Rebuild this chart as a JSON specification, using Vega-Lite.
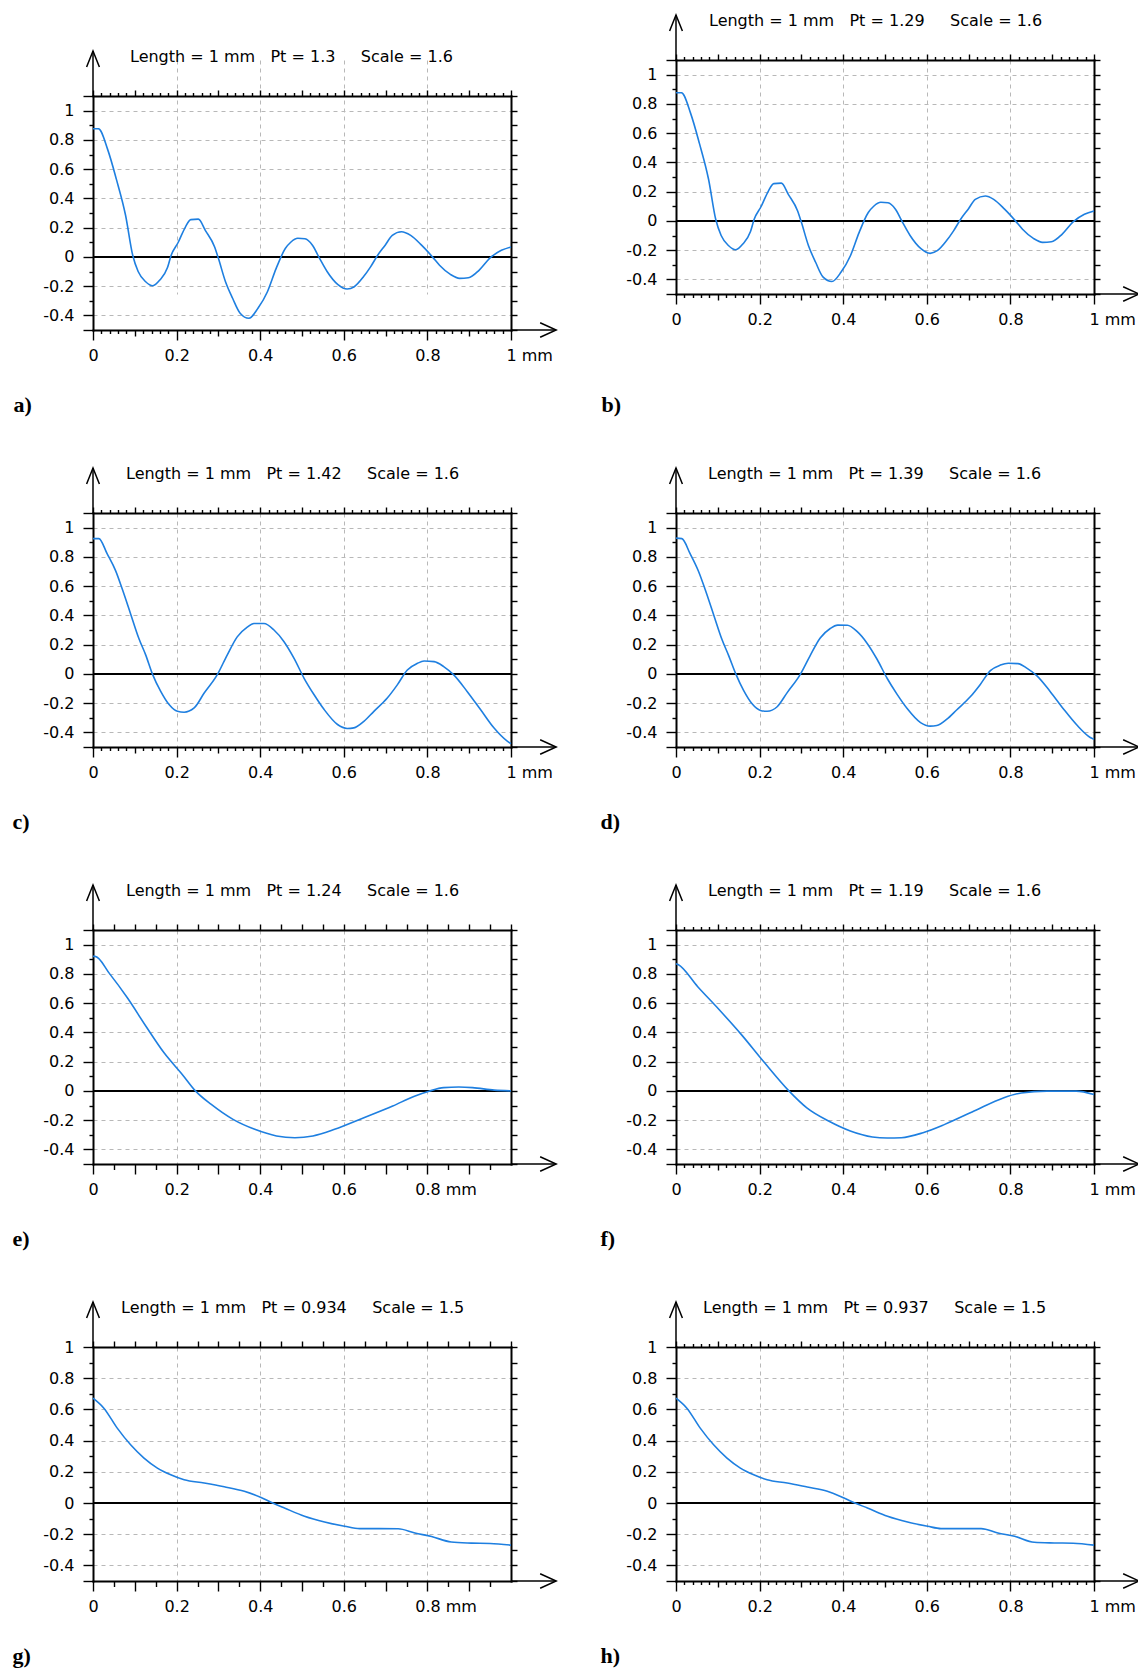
{
  "$schema": "https://vega.github.io/schema/vega-lite/v6.json",
  "background": "white",
  "padding": {"left": 12, "top": 11, "right": 10, "bottom": 10},
  "config": {
    "view": {"stroke": null},
    "axis": {"domainColor": "black", "domainWidth": 2, "domainCap": "square", "tickColor": "black", "tickWidth": 1.4, "labelFont": "DejaVu Sans", "labelFontSize": 16, "labelColor": "black", "labelFlush": false, "labelOverlap": false, "labelBound": false, "gridColor": "#b8b8b8", "gridDash": [4, 4], "gridWidth": 1, "titleColor": "black"},
    "title": {"font": "DejaVu Sans", "fontSize": 16, "fontWeight": "normal", "color": "black", "anchor": "start", "frame": "group", "offset": -17.5, "baseline": "alphabetic"}
  },
  "columns": 2,
  "spacing": {"row": 183, "column": 165},
  "bounds": "flush",
  "align": "each",
  "concat": [
    {
      "width": 418, "height": 270,
      "title": {"text": "Length = 1 mm\u00a0\u00a0\u00a0Pt = 1.3\u00a0\u00a0\u00a0\u00a0\u00a0Scale = 1.6", "dx": 37},
      "layer": [
        {"data": {"values": [{}]}, "mark": {"type": "rule", "color": "black", "strokeWidth": 2}, "encoding": {"y": {"datum": 0, "type": "quantitative", "scale": {"domain": [-0.5, 1.1], "nice": false, "zero": false, "range": [270, 36]}, "axis": null}}},
        {"data": {"values": [{"x":0,"y":0.876},{"x":0.013,"y":0.876},{"x":0.035,"y":0.735},{"x":0.056,"y":0.53},{"x":0.078,"y":0.283},{"x":0.095,"y":0.011},{"x":0.108,"y":-0.1},{"x":0.126,"y":-0.17},{"x":0.143,"y":-0.197},{"x":0.16,"y":-0.158},{"x":0.178,"y":-0.075},{"x":0.187,"y":0.011},{"x":0.204,"y":0.1},{"x":0.221,"y":0.204},{"x":0.234,"y":0.255},{"x":0.252,"y":0.258},{"x":0.269,"y":0.18},{"x":0.291,"y":0.068},{"x":0.3,"y":-0.01},{"x":0.317,"y":-0.17},{"x":0.334,"y":-0.283},{"x":0.352,"y":-0.385},{"x":0.373,"y":-0.42},{"x":0.395,"y":-0.35},{"x":0.417,"y":-0.24},{"x":0.438,"y":-0.08},{"x":0.46,"y":0.057},{"x":0.473,"y":0.1},{"x":0.49,"y":0.127},{"x":0.507,"y":0.124},{"x":0.525,"y":0.08},{"x":0.542,"y":-0.01},{"x":0.56,"y":-0.1},{"x":0.586,"y":-0.19},{"x":0.608,"y":-0.22},{"x":0.625,"y":-0.204},{"x":0.647,"y":-0.136},{"x":0.664,"y":-0.068},{"x":0.681,"y":0.011},{"x":0.699,"y":0.08},{"x":0.716,"y":0.147},{"x":0.738,"y":0.172},{"x":0.76,"y":0.147},{"x":0.786,"y":0.08},{"x":0.812,"y":0},{"x":0.829,"y":-0.057},{"x":0.855,"y":-0.12},{"x":0.877,"y":-0.147},{"x":0.898,"y":-0.143},{"x":0.924,"y":-0.09},{"x":0.95,"y":-0.007},{"x":0.977,"y":0.045},{"x":1,"y":0.068}]},
         "mark": {"type": "line", "color": "#1e7fe0", "strokeWidth": 1.6, "interpolate": "monotone"},
         "encoding": {
          "x": {"field": "x", "type": "quantitative", "scale": {"domain": [0, 1], "nice": false, "zero": false},
                "axis": {"orient": "bottom", "values": [0,0.02,0.04,0.06,0.08,0.1,0.12,0.14,0.16,0.18,0.2,0.22,0.24,0.26,0.28,0.3,0.32,0.34,0.36,0.38,0.4,0.42,0.44,0.46,0.48,0.5,0.52,0.54,0.56,0.58,0.6,0.62,0.64,0.66,0.68,0.7,0.72,0.74,0.76,0.78,0.8,0.82,0.84,0.86,0.88,0.9,0.92,0.94,0.96,0.98,1],
                 "tickSize": {"expr": "abs(datum.value*5-round(datum.value*5))<0.001 ? 10 : (abs(datum.value*10-round(datum.value*10))<0.001 ? 6 : 3.5)"},
                 "labelExpr": "abs(datum.value*5-round(datum.value*5))<0.001 ? (datum.value > 0.99 ? '1 mm' : format(datum.value, '~g')) : ''",
                 "labelAlign": {"condition": {"test": "datum.value > 0.99", "value": "left"}, "value": "center"},
                 "labelOffset": {"condition": {"test": "datum.value > 0.99", "value": -5}, "value": 0},
                 "labelPadding": 7, "grid": true,
                 "gridOpacity": {"condition": {"test": "abs(datum.value*5-round(datum.value*5))<0.001 && datum.value > 0.01 && datum.value < 0.99", "value": 1}, "value": 0},
                 "title": "a)", "titleX": -80, "titleY": 81, "titleAlign": "left", "titleBaseline": "alphabetic", "titleFont": "Liberation Serif", "titleFontSize": 22, "titleFontWeight": "bold", "titleAngle": 0}},
          "y": {"field": "y", "type": "quantitative", "scale": {"domain": [-0.5, 1.1], "nice": false, "zero": false, "range": [270, 36]},
                "axis": {"orient": "left", "values": [-0.5,-0.4,-0.3,-0.2,-0.1,0,0.1,0.2,0.3,0.4,0.5,0.6,0.7,0.8,0.9,1,1.1],
                 "tickSize": {"expr": "abs(datum.value*5-round(datum.value*5))<0.001 || datum.value < -0.45 || datum.value > 1.05 ? 10 : 4"},
                 "labelExpr": "abs(datum.value*5-round(datum.value*5))<0.001 && datum.value > -0.45 && datum.value < 1.05 ? (datum.value < -0.01 ? '-' : '') + format(abs(datum.value), '~g') : ''",
                 "labelPadding": 9, "grid": true,
                 "gridOpacity": {"condition": {"test": "abs(datum.value*5-round(datum.value*5))<0.001 && abs(datum.value) > 0.01 && datum.value > -0.45 && datum.value < 1.05", "value": 1}, "value": 0},
                 "title": null}}
         }},
        {"data": {"values": [{}]}, "mark": {"type": "rule", "color": "black", "strokeWidth": 1.5},
         "encoding": {
          "x": {"datum": 0, "type": "quantitative", "scale": {"domain": [0, 1], "nice": false, "zero": false},
                "axis": {"orient": "top", "offset": -36, "values": [0,0.02,0.04,0.06,0.08,0.1,0.12,0.14,0.16,0.18,0.2,0.22,0.24,0.26,0.28,0.3,0.32,0.34,0.36,0.38,0.4,0.42,0.44,0.46,0.48,0.5,0.52,0.54,0.56,0.58,0.6,0.62,0.64,0.66,0.68,0.7,0.72,0.74,0.76,0.78,0.8,0.82,0.84,0.86,0.88,0.9,0.92,0.94,0.96,0.98,1],
                 "tickSize": {"expr": "abs(datum.value*10-round(datum.value*10))<0.001 ? 6 : 3.5"}, "labels": false, "grid": false, "title": null}},
          "y": {"datum": 1.1, "type": "quantitative", "scale": {"domain": [-0.5, 1.1], "nice": false, "zero": false, "range": [270, 36]},
                "axis": {"orient": "right", "values": [-0.5,-0.4,-0.3,-0.2,-0.1,0,0.1,0.2,0.3,0.4,0.5,0.6,0.7,0.8,0.9,1,1.1], "tickSize": 6, "labels": false, "grid": false, "title": null}},
          "y2": {"datum": 1.408}
         }},
        {"data": {"values": [{}]}, "mark": {"type": "rule", "color": "black", "strokeWidth": 1.5},
         "encoding": {"x": {"datum": 1, "type": "quantitative", "scale": {"domain": [0, 1], "nice": false, "zero": false}, "axis": null}, "x2": {"datum": 1.108}, "y": {"datum": -0.5, "type": "quantitative", "scale": {"domain": [-0.5, 1.1], "nice": false, "zero": false, "range": [270, 36]}, "axis": null}}},
        {"data": {"values": [{}]}, "mark": {"type": "point", "shape": "M-0.8,2L0,0L0.8,2", "size": 256, "filled": false, "color": "black", "strokeWidth": 1.5, "opacity": 1},
         "encoding": {"x": {"datum": 0, "type": "quantitative", "scale": {"domain": [0, 1], "nice": false, "zero": false}, "axis": null}, "y": {"datum": 1.408, "type": "quantitative", "scale": {"domain": [-0.5, 1.1], "nice": false, "zero": false, "range": [270, 36]}, "axis": null}}},
        {"data": {"values": [{}]}, "mark": {"type": "point", "shape": "M-2,-0.9L0,0L-2,0.9", "size": 256, "filled": false, "color": "black", "strokeWidth": 1.5, "opacity": 1},
         "encoding": {"x": {"datum": 1.108, "type": "quantitative", "scale": {"domain": [0, 1], "nice": false, "zero": false}, "axis": null}, "y": {"datum": -0.5, "type": "quantitative", "scale": {"domain": [-0.5, 1.1], "nice": false, "zero": false, "range": [270, 36]}, "axis": null}}}
      ],
      "resolve": {"axis": {"x": "independent", "y": "independent"}}
    },
    {
      "width": 418, "height": 234,
      "title": {"text": "Length = 1 mm\u00a0\u00a0\u00a0Pt = 1.29\u00a0\u00a0\u00a0\u00a0\u00a0Scale = 1.6", "dx": 33},
      "layer": [
        {"data": {"values": [{}]}, "mark": {"type": "rule", "color": "black", "strokeWidth": 2}, "encoding": {"y": {"datum": 0, "type": "quantitative", "scale": {"domain": [-0.5, 1.1], "nice": false, "zero": false}, "axis": null}}},
        {"data": {"values": [{"x":0,"y":0.876},{"x":0.013,"y":0.876},{"x":0.035,"y":0.735},{"x":0.056,"y":0.53},{"x":0.078,"y":0.283},{"x":0.095,"y":0.011},{"x":0.108,"y":-0.1},{"x":0.126,"y":-0.17},{"x":0.143,"y":-0.197},{"x":0.16,"y":-0.158},{"x":0.178,"y":-0.075},{"x":0.187,"y":0.011},{"x":0.204,"y":0.1},{"x":0.221,"y":0.204},{"x":0.234,"y":0.255},{"x":0.252,"y":0.258},{"x":0.269,"y":0.18},{"x":0.291,"y":0.068},{"x":0.3,"y":-0.01},{"x":0.317,"y":-0.17},{"x":0.334,"y":-0.283},{"x":0.352,"y":-0.385},{"x":0.373,"y":-0.415},{"x":0.395,"y":-0.35},{"x":0.417,"y":-0.24},{"x":0.438,"y":-0.08},{"x":0.46,"y":0.057},{"x":0.473,"y":0.1},{"x":0.49,"y":0.127},{"x":0.507,"y":0.124},{"x":0.525,"y":0.08},{"x":0.542,"y":-0.01},{"x":0.56,"y":-0.1},{"x":0.586,"y":-0.19},{"x":0.608,"y":-0.222},{"x":0.625,"y":-0.204},{"x":0.647,"y":-0.136},{"x":0.664,"y":-0.068},{"x":0.681,"y":0.011},{"x":0.699,"y":0.08},{"x":0.716,"y":0.147},{"x":0.74,"y":0.17},{"x":0.76,"y":0.147},{"x":0.786,"y":0.08},{"x":0.812,"y":0},{"x":0.829,"y":-0.057},{"x":0.855,"y":-0.12},{"x":0.877,"y":-0.147},{"x":0.898,"y":-0.143},{"x":0.924,"y":-0.09},{"x":0.95,"y":-0.007},{"x":0.977,"y":0.045},{"x":1,"y":0.068}]},
         "mark": {"type": "line", "color": "#1e7fe0", "strokeWidth": 1.6, "interpolate": "monotone"},
         "encoding": {
          "x": {"field": "x", "type": "quantitative", "scale": {"domain": [0, 1], "nice": false, "zero": false},
                "axis": {"orient": "bottom", "values": [0,0.02,0.04,0.06,0.08,0.1,0.12,0.14,0.16,0.18,0.2,0.22,0.24,0.26,0.28,0.3,0.32,0.34,0.36,0.38,0.4,0.42,0.44,0.46,0.48,0.5,0.52,0.54,0.56,0.58,0.6,0.62,0.64,0.66,0.68,0.7,0.72,0.74,0.76,0.78,0.8,0.82,0.84,0.86,0.88,0.9,0.92,0.94,0.96,0.98,1],
                 "tickSize": {"expr": "abs(datum.value*5-round(datum.value*5))<0.001 ? 10 : (abs(datum.value*10-round(datum.value*10))<0.001 ? 6 : 3.5)"},
                 "labelExpr": "abs(datum.value*5-round(datum.value*5))<0.001 ? (datum.value > 0.99 ? '1 mm' : format(datum.value, '~g')) : ''",
                 "labelAlign": {"condition": {"test": "datum.value > 0.99", "value": "left"}, "value": "center"},
                 "labelOffset": {"condition": {"test": "datum.value > 0.99", "value": -5}, "value": 0},
                 "labelPadding": 7, "grid": true,
                 "gridOpacity": {"condition": {"test": "abs(datum.value*5-round(datum.value*5))<0.001 && datum.value > 0.01 && datum.value < 0.99", "value": 1}, "value": 0},
                 "title": "b)", "titleX": -75, "titleY": 117, "titleAlign": "left", "titleBaseline": "alphabetic", "titleFont": "Liberation Serif", "titleFontSize": 22, "titleFontWeight": "bold", "titleAngle": 0}},
          "y": {"field": "y", "type": "quantitative", "scale": {"domain": [-0.5, 1.1], "nice": false, "zero": false},
                "axis": {"orient": "left", "values": [-0.5,-0.4,-0.3,-0.2,-0.1,0,0.1,0.2,0.3,0.4,0.5,0.6,0.7,0.8,0.9,1,1.1],
                 "tickSize": {"expr": "abs(datum.value*5-round(datum.value*5))<0.001 || datum.value < -0.45 || datum.value > 1.05 ? 10 : 4"},
                 "labelExpr": "abs(datum.value*5-round(datum.value*5))<0.001 && datum.value > -0.45 && datum.value < 1.05 ? (datum.value < -0.01 ? '-' : '') + format(abs(datum.value), '~g') : ''",
                 "labelPadding": 9, "grid": true,
                 "gridOpacity": {"condition": {"test": "abs(datum.value*5-round(datum.value*5))<0.001 && abs(datum.value) > 0.01 && datum.value > -0.45 && datum.value < 1.05", "value": 1}, "value": 0},
                 "title": null}}
         }},
        {"data": {"values": [{}]}, "mark": {"type": "rule", "color": "black", "strokeWidth": 1.5},
         "encoding": {
          "x": {"datum": 0, "type": "quantitative", "scale": {"domain": [0, 1], "nice": false, "zero": false},
                "axis": {"orient": "top", "values": [0,0.02,0.04,0.06,0.08,0.1,0.12,0.14,0.16,0.18,0.2,0.22,0.24,0.26,0.28,0.3,0.32,0.34,0.36,0.38,0.4,0.42,0.44,0.46,0.48,0.5,0.52,0.54,0.56,0.58,0.6,0.62,0.64,0.66,0.68,0.7,0.72,0.74,0.76,0.78,0.8,0.82,0.84,0.86,0.88,0.9,0.92,0.94,0.96,0.98,1],
                 "tickSize": {"expr": "abs(datum.value*10-round(datum.value*10))<0.001 ? 6 : 3.5"}, "labels": false, "grid": false, "title": null}},
          "y": {"datum": 1.1, "type": "quantitative", "scale": {"domain": [-0.5, 1.1], "nice": false, "zero": false},
                "axis": {"orient": "right", "values": [-0.5,-0.4,-0.3,-0.2,-0.1,0,0.1,0.2,0.3,0.4,0.5,0.6,0.7,0.8,0.9,1,1.1], "tickSize": 6, "labels": false, "grid": false, "title": null}},
          "y2": {"datum": 1.408}
         }},
        {"data": {"values": [{}]}, "mark": {"type": "rule", "color": "black", "strokeWidth": 1.5},
         "encoding": {"x": {"datum": 1, "type": "quantitative", "scale": {"domain": [0, 1], "nice": false, "zero": false}, "axis": null}, "x2": {"datum": 1.108}, "y": {"datum": -0.5, "type": "quantitative", "scale": {"domain": [-0.5, 1.1], "nice": false, "zero": false}, "axis": null}}},
        {"data": {"values": [{}]}, "mark": {"type": "point", "shape": "M-0.8,2L0,0L0.8,2", "size": 256, "filled": false, "color": "black", "strokeWidth": 1.5, "opacity": 1},
         "encoding": {"x": {"datum": 0, "type": "quantitative", "scale": {"domain": [0, 1], "nice": false, "zero": false}, "axis": null}, "y": {"datum": 1.408, "type": "quantitative", "scale": {"domain": [-0.5, 1.1], "nice": false, "zero": false}, "axis": null}}},
        {"data": {"values": [{}]}, "mark": {"type": "point", "shape": "M-2,-0.9L0,0L-2,0.9", "size": 256, "filled": false, "color": "black", "strokeWidth": 1.5, "opacity": 1},
         "encoding": {"x": {"datum": 1.108, "type": "quantitative", "scale": {"domain": [0, 1], "nice": false, "zero": false}, "axis": null}, "y": {"datum": -0.5, "type": "quantitative", "scale": {"domain": [-0.5, 1.1], "nice": false, "zero": false}, "axis": null}}}
      ],
      "resolve": {"axis": {"x": "independent", "y": "independent"}}
    },
    {
      "width": 418, "height": 234,
      "title": {"text": "Length = 1 mm\u00a0\u00a0\u00a0Pt = 1.42\u00a0\u00a0\u00a0\u00a0\u00a0Scale = 1.6", "dx": 33},
      "layer": [
        {"data": {"values": [{}]}, "mark": {"type": "rule", "color": "black", "strokeWidth": 2}, "encoding": {"y": {"datum": 0, "type": "quantitative", "scale": {"domain": [-0.5, 1.1], "nice": false, "zero": false}, "axis": null}}},
        {"data": {"values": [{"x":0,"y":0.925},{"x":0.014,"y":0.925},{"x":0.034,"y":0.82},{"x":0.054,"y":0.706},{"x":0.07,"y":0.58},{"x":0.09,"y":0.41},{"x":0.11,"y":0.24},{"x":0.126,"y":0.13},{"x":0.142,"y":0},{"x":0.162,"y":-0.12},{"x":0.182,"y":-0.21},{"x":0.202,"y":-0.256},{"x":0.218,"y":-0.262},{"x":0.242,"y":-0.233},{"x":0.266,"y":-0.131},{"x":0.297,"y":-0.007},{"x":0.321,"y":0.129},{"x":0.345,"y":0.253},{"x":0.369,"y":0.32},{"x":0.385,"y":0.344},{"x":0.409,"y":0.344},{"x":0.433,"y":0.3},{"x":0.457,"y":0.22},{"x":0.481,"y":0.106},{"x":0.505,"y":-0.03},{"x":0.529,"y":-0.143},{"x":0.553,"y":-0.244},{"x":0.585,"y":-0.346},{"x":0.608,"y":-0.373},{"x":0.624,"y":-0.369},{"x":0.648,"y":-0.324},{"x":0.672,"y":-0.256},{"x":0.704,"y":-0.165},{"x":0.728,"y":-0.075},{"x":0.752,"y":0.027},{"x":0.776,"y":0.072},{"x":0.792,"y":0.088},{"x":0.816,"y":0.084},{"x":0.839,"y":0.05},{"x":0.863,"y":-0.007},{"x":0.895,"y":-0.12},{"x":0.927,"y":-0.244},{"x":0.959,"y":-0.369},{"x":0.991,"y":-0.46},{"x":1,"y":-0.477}]},
         "mark": {"type": "line", "color": "#1e7fe0", "strokeWidth": 1.6, "interpolate": "monotone"},
         "encoding": {
          "x": {"field": "x", "type": "quantitative", "scale": {"domain": [0, 1], "nice": false, "zero": false},
                "axis": {"orient": "bottom", "values": [0,0.02,0.04,0.06,0.08,0.1,0.12,0.14,0.16,0.18,0.2,0.22,0.24,0.26,0.28,0.3,0.32,0.34,0.36,0.38,0.4,0.42,0.44,0.46,0.48,0.5,0.52,0.54,0.56,0.58,0.6,0.62,0.64,0.66,0.68,0.7,0.72,0.74,0.76,0.78,0.8,0.82,0.84,0.86,0.88,0.9,0.92,0.94,0.96,0.98,1],
                 "tickSize": {"expr": "abs(datum.value*5-round(datum.value*5))<0.001 ? 10 : (abs(datum.value*10-round(datum.value*10))<0.001 ? 6 : 3.5)"},
                 "labelExpr": "abs(datum.value*5-round(datum.value*5))<0.001 ? (datum.value > 0.99 ? '1 mm' : format(datum.value, '~g')) : ''",
                 "labelAlign": {"condition": {"test": "datum.value > 0.99", "value": "left"}, "value": "center"},
                 "labelOffset": {"condition": {"test": "datum.value > 0.99", "value": -5}, "value": 0},
                 "labelPadding": 7, "grid": true,
                 "gridOpacity": {"condition": {"test": "abs(datum.value*5-round(datum.value*5))<0.001 && datum.value > 0.01 && datum.value < 0.99", "value": 1}, "value": 0},
                 "title": "c)", "titleX": -81, "titleY": 81, "titleAlign": "left", "titleBaseline": "alphabetic", "titleFont": "Liberation Serif", "titleFontSize": 22, "titleFontWeight": "bold", "titleAngle": 0}},
          "y": {"field": "y", "type": "quantitative", "scale": {"domain": [-0.5, 1.1], "nice": false, "zero": false},
                "axis": {"orient": "left", "values": [-0.5,-0.4,-0.3,-0.2,-0.1,0,0.1,0.2,0.3,0.4,0.5,0.6,0.7,0.8,0.9,1,1.1],
                 "tickSize": {"expr": "abs(datum.value*5-round(datum.value*5))<0.001 || datum.value < -0.45 || datum.value > 1.05 ? 10 : 4"},
                 "labelExpr": "abs(datum.value*5-round(datum.value*5))<0.001 && datum.value > -0.45 && datum.value < 1.05 ? (datum.value < -0.01 ? '-' : '') + format(abs(datum.value), '~g') : ''",
                 "labelPadding": 9, "grid": true,
                 "gridOpacity": {"condition": {"test": "abs(datum.value*5-round(datum.value*5))<0.001 && abs(datum.value) > 0.01 && datum.value > -0.45 && datum.value < 1.05", "value": 1}, "value": 0},
                 "title": null}}
         }},
        {"data": {"values": [{}]}, "mark": {"type": "rule", "color": "black", "strokeWidth": 1.5},
         "encoding": {
          "x": {"datum": 0, "type": "quantitative", "scale": {"domain": [0, 1], "nice": false, "zero": false},
                "axis": {"orient": "top", "values": [0,0.02,0.04,0.06,0.08,0.1,0.12,0.14,0.16,0.18,0.2,0.22,0.24,0.26,0.28,0.3,0.32,0.34,0.36,0.38,0.4,0.42,0.44,0.46,0.48,0.5,0.52,0.54,0.56,0.58,0.6,0.62,0.64,0.66,0.68,0.7,0.72,0.74,0.76,0.78,0.8,0.82,0.84,0.86,0.88,0.9,0.92,0.94,0.96,0.98,1],
                 "tickSize": {"expr": "abs(datum.value*10-round(datum.value*10))<0.001 ? 6 : 3.5"}, "labels": false, "grid": false, "title": null}},
          "y": {"datum": 1.1, "type": "quantitative", "scale": {"domain": [-0.5, 1.1], "nice": false, "zero": false},
                "axis": {"orient": "right", "values": [-0.5,-0.4,-0.3,-0.2,-0.1,0,0.1,0.2,0.3,0.4,0.5,0.6,0.7,0.8,0.9,1,1.1], "tickSize": 6, "labels": false, "grid": false, "title": null}},
          "y2": {"datum": 1.408}
         }},
        {"data": {"values": [{}]}, "mark": {"type": "rule", "color": "black", "strokeWidth": 1.5},
         "encoding": {"x": {"datum": 1, "type": "quantitative", "scale": {"domain": [0, 1], "nice": false, "zero": false}, "axis": null}, "x2": {"datum": 1.108}, "y": {"datum": -0.5, "type": "quantitative", "scale": {"domain": [-0.5, 1.1], "nice": false, "zero": false}, "axis": null}}},
        {"data": {"values": [{}]}, "mark": {"type": "point", "shape": "M-0.8,2L0,0L0.8,2", "size": 256, "filled": false, "color": "black", "strokeWidth": 1.5, "opacity": 1},
         "encoding": {"x": {"datum": 0, "type": "quantitative", "scale": {"domain": [0, 1], "nice": false, "zero": false}, "axis": null}, "y": {"datum": 1.408, "type": "quantitative", "scale": {"domain": [-0.5, 1.1], "nice": false, "zero": false}, "axis": null}}},
        {"data": {"values": [{}]}, "mark": {"type": "point", "shape": "M-2,-0.9L0,0L-2,0.9", "size": 256, "filled": false, "color": "black", "strokeWidth": 1.5, "opacity": 1},
         "encoding": {"x": {"datum": 1.108, "type": "quantitative", "scale": {"domain": [0, 1], "nice": false, "zero": false}, "axis": null}, "y": {"datum": -0.5, "type": "quantitative", "scale": {"domain": [-0.5, 1.1], "nice": false, "zero": false}, "axis": null}}}
      ],
      "resolve": {"axis": {"x": "independent", "y": "independent"}}
    },
    {
      "width": 418, "height": 234,
      "title": {"text": "Length = 1 mm\u00a0\u00a0\u00a0Pt = 1.39\u00a0\u00a0\u00a0\u00a0\u00a0Scale = 1.6", "dx": 32},
      "layer": [
        {"data": {"values": [{}]}, "mark": {"type": "rule", "color": "black", "strokeWidth": 2}, "encoding": {"y": {"datum": 0, "type": "quantitative", "scale": {"domain": [-0.5, 1.1], "nice": false, "zero": false}, "axis": null}}},
        {"data": {"values": [{"x":0,"y":0.928},{"x":0.014,"y":0.925},{"x":0.034,"y":0.82},{"x":0.054,"y":0.7},{"x":0.07,"y":0.575},{"x":0.09,"y":0.405},{"x":0.11,"y":0.235},{"x":0.126,"y":0.125},{"x":0.143,"y":0},{"x":0.162,"y":-0.115},{"x":0.182,"y":-0.205},{"x":0.202,"y":-0.25},{"x":0.218,"y":-0.256},{"x":0.242,"y":-0.225},{"x":0.266,"y":-0.128},{"x":0.297,"y":-0.005},{"x":0.321,"y":0.125},{"x":0.345,"y":0.245},{"x":0.369,"y":0.31},{"x":0.387,"y":0.333},{"x":0.41,"y":0.332},{"x":0.433,"y":0.29},{"x":0.457,"y":0.21},{"x":0.481,"y":0.1},{"x":0.505,"y":-0.03},{"x":0.529,"y":-0.14},{"x":0.553,"y":-0.237},{"x":0.585,"y":-0.333},{"x":0.608,"y":-0.357},{"x":0.624,"y":-0.353},{"x":0.648,"y":-0.31},{"x":0.672,"y":-0.245},{"x":0.704,"y":-0.157},{"x":0.728,"y":-0.072},{"x":0.752,"y":0.022},{"x":0.776,"y":0.06},{"x":0.795,"y":0.073},{"x":0.818,"y":0.07},{"x":0.84,"y":0.038},{"x":0.863,"y":-0.012},{"x":0.895,"y":-0.12},{"x":0.927,"y":-0.24},{"x":0.959,"y":-0.35},{"x":0.991,"y":-0.435},{"x":1,"y":-0.448}]},
         "mark": {"type": "line", "color": "#1e7fe0", "strokeWidth": 1.6, "interpolate": "monotone"},
         "encoding": {
          "x": {"field": "x", "type": "quantitative", "scale": {"domain": [0, 1], "nice": false, "zero": false},
                "axis": {"orient": "bottom", "values": [0,0.02,0.04,0.06,0.08,0.1,0.12,0.14,0.16,0.18,0.2,0.22,0.24,0.26,0.28,0.3,0.32,0.34,0.36,0.38,0.4,0.42,0.44,0.46,0.48,0.5,0.52,0.54,0.56,0.58,0.6,0.62,0.64,0.66,0.68,0.7,0.72,0.74,0.76,0.78,0.8,0.82,0.84,0.86,0.88,0.9,0.92,0.94,0.96,0.98,1],
                 "tickSize": {"expr": "abs(datum.value*5-round(datum.value*5))<0.001 ? 10 : (abs(datum.value*10-round(datum.value*10))<0.001 ? 6 : 3.5)"},
                 "labelExpr": "abs(datum.value*5-round(datum.value*5))<0.001 ? (datum.value > 0.99 ? '1 mm' : format(datum.value, '~g')) : ''",
                 "labelAlign": {"condition": {"test": "datum.value > 0.99", "value": "left"}, "value": "center"},
                 "labelOffset": {"condition": {"test": "datum.value > 0.99", "value": -5}, "value": 0},
                 "labelPadding": 7, "grid": true,
                 "gridOpacity": {"condition": {"test": "abs(datum.value*5-round(datum.value*5))<0.001 && datum.value > 0.01 && datum.value < 0.99", "value": 1}, "value": 0},
                 "title": "d)", "titleX": -76, "titleY": 81, "titleAlign": "left", "titleBaseline": "alphabetic", "titleFont": "Liberation Serif", "titleFontSize": 22, "titleFontWeight": "bold", "titleAngle": 0}},
          "y": {"field": "y", "type": "quantitative", "scale": {"domain": [-0.5, 1.1], "nice": false, "zero": false},
                "axis": {"orient": "left", "values": [-0.5,-0.4,-0.3,-0.2,-0.1,0,0.1,0.2,0.3,0.4,0.5,0.6,0.7,0.8,0.9,1,1.1],
                 "tickSize": {"expr": "abs(datum.value*5-round(datum.value*5))<0.001 || datum.value < -0.45 || datum.value > 1.05 ? 10 : 4"},
                 "labelExpr": "abs(datum.value*5-round(datum.value*5))<0.001 && datum.value > -0.45 && datum.value < 1.05 ? (datum.value < -0.01 ? '-' : '') + format(abs(datum.value), '~g') : ''",
                 "labelPadding": 9, "grid": true,
                 "gridOpacity": {"condition": {"test": "abs(datum.value*5-round(datum.value*5))<0.001 && abs(datum.value) > 0.01 && datum.value > -0.45 && datum.value < 1.05", "value": 1}, "value": 0},
                 "title": null}}
         }},
        {"data": {"values": [{}]}, "mark": {"type": "rule", "color": "black", "strokeWidth": 1.5},
         "encoding": {
          "x": {"datum": 0, "type": "quantitative", "scale": {"domain": [0, 1], "nice": false, "zero": false},
                "axis": {"orient": "top", "values": [0,0.02,0.04,0.06,0.08,0.1,0.12,0.14,0.16,0.18,0.2,0.22,0.24,0.26,0.28,0.3,0.32,0.34,0.36,0.38,0.4,0.42,0.44,0.46,0.48,0.5,0.52,0.54,0.56,0.58,0.6,0.62,0.64,0.66,0.68,0.7,0.72,0.74,0.76,0.78,0.8,0.82,0.84,0.86,0.88,0.9,0.92,0.94,0.96,0.98,1],
                 "tickSize": {"expr": "abs(datum.value*10-round(datum.value*10))<0.001 ? 6 : 3.5"}, "labels": false, "grid": false, "title": null}},
          "y": {"datum": 1.1, "type": "quantitative", "scale": {"domain": [-0.5, 1.1], "nice": false, "zero": false},
                "axis": {"orient": "right", "values": [-0.5,-0.4,-0.3,-0.2,-0.1,0,0.1,0.2,0.3,0.4,0.5,0.6,0.7,0.8,0.9,1,1.1], "tickSize": 6, "labels": false, "grid": false, "title": null}},
          "y2": {"datum": 1.408}
         }},
        {"data": {"values": [{}]}, "mark": {"type": "rule", "color": "black", "strokeWidth": 1.5},
         "encoding": {"x": {"datum": 1, "type": "quantitative", "scale": {"domain": [0, 1], "nice": false, "zero": false}, "axis": null}, "x2": {"datum": 1.108}, "y": {"datum": -0.5, "type": "quantitative", "scale": {"domain": [-0.5, 1.1], "nice": false, "zero": false}, "axis": null}}},
        {"data": {"values": [{}]}, "mark": {"type": "point", "shape": "M-0.8,2L0,0L0.8,2", "size": 256, "filled": false, "color": "black", "strokeWidth": 1.5, "opacity": 1},
         "encoding": {"x": {"datum": 0, "type": "quantitative", "scale": {"domain": [0, 1], "nice": false, "zero": false}, "axis": null}, "y": {"datum": 1.408, "type": "quantitative", "scale": {"domain": [-0.5, 1.1], "nice": false, "zero": false}, "axis": null}}},
        {"data": {"values": [{}]}, "mark": {"type": "point", "shape": "M-2,-0.9L0,0L-2,0.9", "size": 256, "filled": false, "color": "black", "strokeWidth": 1.5, "opacity": 1},
         "encoding": {"x": {"datum": 1.108, "type": "quantitative", "scale": {"domain": [0, 1], "nice": false, "zero": false}, "axis": null}, "y": {"datum": -0.5, "type": "quantitative", "scale": {"domain": [-0.5, 1.1], "nice": false, "zero": false}, "axis": null}}}
      ],
      "resolve": {"axis": {"x": "independent", "y": "independent"}}
    },
    {
      "width": 418, "height": 234,
      "title": {"text": "Length = 1 mm\u00a0\u00a0\u00a0Pt = 1.24\u00a0\u00a0\u00a0\u00a0\u00a0Scale = 1.6", "dx": 33},
      "layer": [
        {"data": {"values": [{}]}, "mark": {"type": "rule", "color": "black", "strokeWidth": 2}, "encoding": {"y": {"datum": 0, "type": "quantitative", "scale": {"domain": [-0.5, 1.1], "nice": false, "zero": false}, "axis": null}}},
        {"data": {"values": [{"x":0,"y":0.92},{"x":0.005,"y":0.92},{"x":0.04,"y":0.8},{"x":0.083,"y":0.633},{"x":0.127,"y":0.44},{"x":0.17,"y":0.26},{"x":0.214,"y":0.111},{"x":0.245,"y":0},{"x":0.283,"y":-0.093},{"x":0.335,"y":-0.195},{"x":0.387,"y":-0.263},{"x":0.439,"y":-0.308},{"x":0.483,"y":-0.32},{"x":0.526,"y":-0.308},{"x":0.578,"y":-0.263},{"x":0.648,"y":-0.184},{"x":0.717,"y":-0.104},{"x":0.769,"y":-0.036},{"x":0.804,"y":-0.002},{"x":0.839,"y":0.022},{"x":0.875,"y":0.026},{"x":0.908,"y":0.022},{"x":0.96,"y":0.005},{"x":1,"y":0}]},
         "mark": {"type": "line", "color": "#1e7fe0", "strokeWidth": 1.6, "interpolate": "monotone"},
         "encoding": {
          "x": {"field": "x", "type": "quantitative", "scale": {"domain": [0, 1], "nice": false, "zero": false},
                "axis": {"orient": "bottom", "values": [0,0.05,0.1,0.15,0.2,0.25,0.3,0.35,0.4,0.45,0.5,0.55,0.6,0.65,0.7,0.75,0.8,0.85,0.9,0.95],
                 "tickSize": {"expr": "abs(datum.value*10-round(datum.value*10))<0.001 ? 10 : 5.5"},
                 "labelExpr": "abs(datum.value*5-round(datum.value*5))<0.001 ? (abs(datum.value-0.8) < 0.001 ? '0.8 mm' : format(datum.value, '~g')) : ''",
                 "labelAlign": {"condition": {"test": "abs(datum.value-0.8) < 0.001", "value": "left"}, "value": "center"},
                 "labelOffset": {"condition": {"test": "abs(datum.value-0.8) < 0.001", "value": -12.7}, "value": 0},
                 "labelPadding": 7, "grid": true,
                 "gridOpacity": {"condition": {"test": "abs(datum.value*5-round(datum.value*5))<0.001 && datum.value > 0.01 && datum.value < 0.99", "value": 1}, "value": 0},
                 "title": "e)", "titleX": -81, "titleY": 81, "titleAlign": "left", "titleBaseline": "alphabetic", "titleFont": "Liberation Serif", "titleFontSize": 22, "titleFontWeight": "bold", "titleAngle": 0}},
          "y": {"field": "y", "type": "quantitative", "scale": {"domain": [-0.5, 1.1], "nice": false, "zero": false},
                "axis": {"orient": "left", "values": [-0.5,-0.4,-0.3,-0.2,-0.1,0,0.1,0.2,0.3,0.4,0.5,0.6,0.7,0.8,0.9,1,1.1],
                 "tickSize": {"expr": "abs(datum.value*5-round(datum.value*5))<0.001 || datum.value < -0.45 || datum.value > 1.05 ? 10 : 4"},
                 "labelExpr": "abs(datum.value*5-round(datum.value*5))<0.001 && datum.value > -0.45 && datum.value < 1.05 ? (datum.value < -0.01 ? '-' : '') + format(abs(datum.value), '~g') : ''",
                 "labelPadding": 9, "grid": true,
                 "gridOpacity": {"condition": {"test": "abs(datum.value*5-round(datum.value*5))<0.001 && abs(datum.value) > 0.01 && datum.value > -0.45 && datum.value < 1.05", "value": 1}, "value": 0},
                 "title": null}}
         }},
        {"data": {"values": [{}]}, "mark": {"type": "rule", "color": "black", "strokeWidth": 1.5},
         "encoding": {
          "x": {"datum": 0, "type": "quantitative", "scale": {"domain": [0, 1], "nice": false, "zero": false},
                "axis": {"orient": "top", "values": [0,0.05,0.1,0.15,0.2,0.25,0.3,0.35,0.4,0.45,0.5,0.55,0.6,0.65,0.7,0.75,0.8,0.85,0.9,0.95,1],
                 "tickSize": 6, "labels": false, "grid": false, "title": null}},
          "y": {"datum": 1.1, "type": "quantitative", "scale": {"domain": [-0.5, 1.1], "nice": false, "zero": false},
                "axis": {"orient": "right", "values": [-0.5,-0.4,-0.3,-0.2,-0.1,0,0.1,0.2,0.3,0.4,0.5,0.6,0.7,0.8,0.9,1,1.1], "tickSize": 6, "labels": false, "grid": false, "title": null}},
          "y2": {"datum": 1.408}
         }},
        {"data": {"values": [{}]}, "mark": {"type": "rule", "color": "black", "strokeWidth": 1.5},
         "encoding": {"x": {"datum": 1, "type": "quantitative", "scale": {"domain": [0, 1], "nice": false, "zero": false}, "axis": null}, "x2": {"datum": 1.108}, "y": {"datum": -0.5, "type": "quantitative", "scale": {"domain": [-0.5, 1.1], "nice": false, "zero": false}, "axis": null}}},
        {"data": {"values": [{}]}, "mark": {"type": "point", "shape": "M-0.8,2L0,0L0.8,2", "size": 256, "filled": false, "color": "black", "strokeWidth": 1.5, "opacity": 1},
         "encoding": {"x": {"datum": 0, "type": "quantitative", "scale": {"domain": [0, 1], "nice": false, "zero": false}, "axis": null}, "y": {"datum": 1.408, "type": "quantitative", "scale": {"domain": [-0.5, 1.1], "nice": false, "zero": false}, "axis": null}}},
        {"data": {"values": [{}]}, "mark": {"type": "point", "shape": "M-2,-0.9L0,0L-2,0.9", "size": 256, "filled": false, "color": "black", "strokeWidth": 1.5, "opacity": 1},
         "encoding": {"x": {"datum": 1.108, "type": "quantitative", "scale": {"domain": [0, 1], "nice": false, "zero": false}, "axis": null}, "y": {"datum": -0.5, "type": "quantitative", "scale": {"domain": [-0.5, 1.1], "nice": false, "zero": false}, "axis": null}}}
      ],
      "resolve": {"axis": {"x": "independent", "y": "independent"}}
    },
    {
      "width": 418, "height": 234,
      "title": {"text": "Length = 1 mm\u00a0\u00a0\u00a0Pt = 1.19\u00a0\u00a0\u00a0\u00a0\u00a0Scale = 1.6", "dx": 32},
      "layer": [
        {"data": {"values": [{}]}, "mark": {"type": "rule", "color": "black", "strokeWidth": 2}, "encoding": {"y": {"datum": 0, "type": "quantitative", "scale": {"domain": [-0.5, 1.1], "nice": false, "zero": false}, "axis": null}}},
        {"data": {"values": [{"x":0,"y":0.87},{"x":0.005,"y":0.864},{"x":0.052,"y":0.712},{"x":0.104,"y":0.553},{"x":0.157,"y":0.383},{"x":0.209,"y":0.202},{"x":0.27,"y":0},{"x":0.313,"y":-0.116},{"x":0.365,"y":-0.206},{"x":0.417,"y":-0.274},{"x":0.47,"y":-0.315},{"x":0.505,"y":-0.322},{"x":0.539,"y":-0.32},{"x":0.591,"y":-0.286},{"x":0.643,"y":-0.229},{"x":0.713,"y":-0.138},{"x":0.783,"y":-0.048},{"x":0.826,"y":-0.014},{"x":0.887,"y":-0.002},{"x":0.957,"y":-0.002},{"x":1,"y":-0.025}]},
         "mark": {"type": "line", "color": "#1e7fe0", "strokeWidth": 1.6, "interpolate": "monotone"},
         "encoding": {
          "x": {"field": "x", "type": "quantitative", "scale": {"domain": [0, 1], "nice": false, "zero": false},
                "axis": {"orient": "bottom", "values": [0,0.02,0.04,0.06,0.08,0.1,0.12,0.14,0.16,0.18,0.2,0.22,0.24,0.26,0.28,0.3,0.32,0.34,0.36,0.38,0.4,0.42,0.44,0.46,0.48,0.5,0.52,0.54,0.56,0.58,0.6,0.62,0.64,0.66,0.68,0.7,0.72,0.74,0.76,0.78,0.8,0.82,0.84,0.86,0.88,0.9,0.92,0.94,0.96,0.98,1],
                 "tickSize": {"expr": "abs(datum.value*5-round(datum.value*5))<0.001 ? 10 : (abs(datum.value*10-round(datum.value*10))<0.001 ? 6 : 3.5)"},
                 "labelExpr": "abs(datum.value*5-round(datum.value*5))<0.001 ? (datum.value > 0.99 ? '1 mm' : format(datum.value, '~g')) : ''",
                 "labelAlign": {"condition": {"test": "datum.value > 0.99", "value": "left"}, "value": "center"},
                 "labelOffset": {"condition": {"test": "datum.value > 0.99", "value": -5}, "value": 0},
                 "labelPadding": 7, "grid": true,
                 "gridOpacity": {"condition": {"test": "abs(datum.value*5-round(datum.value*5))<0.001 && datum.value > 0.01 && datum.value < 0.99", "value": 1}, "value": 0},
                 "title": "f)", "titleX": -76, "titleY": 81, "titleAlign": "left", "titleBaseline": "alphabetic", "titleFont": "Liberation Serif", "titleFontSize": 22, "titleFontWeight": "bold", "titleAngle": 0}},
          "y": {"field": "y", "type": "quantitative", "scale": {"domain": [-0.5, 1.1], "nice": false, "zero": false},
                "axis": {"orient": "left", "values": [-0.5,-0.4,-0.3,-0.2,-0.1,0,0.1,0.2,0.3,0.4,0.5,0.6,0.7,0.8,0.9,1,1.1],
                 "tickSize": {"expr": "abs(datum.value*5-round(datum.value*5))<0.001 || datum.value < -0.45 || datum.value > 1.05 ? 10 : 4"},
                 "labelExpr": "abs(datum.value*5-round(datum.value*5))<0.001 && datum.value > -0.45 && datum.value < 1.05 ? (datum.value < -0.01 ? '-' : '') + format(abs(datum.value), '~g') : ''",
                 "labelPadding": 9, "grid": true,
                 "gridOpacity": {"condition": {"test": "abs(datum.value*5-round(datum.value*5))<0.001 && abs(datum.value) > 0.01 && datum.value > -0.45 && datum.value < 1.05", "value": 1}, "value": 0},
                 "title": null}}
         }},
        {"data": {"values": [{}]}, "mark": {"type": "rule", "color": "black", "strokeWidth": 1.5},
         "encoding": {
          "x": {"datum": 0, "type": "quantitative", "scale": {"domain": [0, 1], "nice": false, "zero": false},
                "axis": {"orient": "top", "values": [0,0.02,0.04,0.06,0.08,0.1,0.12,0.14,0.16,0.18,0.2,0.22,0.24,0.26,0.28,0.3,0.32,0.34,0.36,0.38,0.4,0.42,0.44,0.46,0.48,0.5,0.52,0.54,0.56,0.58,0.6,0.62,0.64,0.66,0.68,0.7,0.72,0.74,0.76,0.78,0.8,0.82,0.84,0.86,0.88,0.9,0.92,0.94,0.96,0.98,1],
                 "tickSize": {"expr": "abs(datum.value*10-round(datum.value*10))<0.001 ? 6 : 3.5"}, "labels": false, "grid": false, "title": null}},
          "y": {"datum": 1.1, "type": "quantitative", "scale": {"domain": [-0.5, 1.1], "nice": false, "zero": false},
                "axis": {"orient": "right", "values": [-0.5,-0.4,-0.3,-0.2,-0.1,0,0.1,0.2,0.3,0.4,0.5,0.6,0.7,0.8,0.9,1,1.1], "tickSize": 6, "labels": false, "grid": false, "title": null}},
          "y2": {"datum": 1.408}
         }},
        {"data": {"values": [{}]}, "mark": {"type": "rule", "color": "black", "strokeWidth": 1.5},
         "encoding": {"x": {"datum": 1, "type": "quantitative", "scale": {"domain": [0, 1], "nice": false, "zero": false}, "axis": null}, "x2": {"datum": 1.108}, "y": {"datum": -0.5, "type": "quantitative", "scale": {"domain": [-0.5, 1.1], "nice": false, "zero": false}, "axis": null}}},
        {"data": {"values": [{}]}, "mark": {"type": "point", "shape": "M-0.8,2L0,0L0.8,2", "size": 256, "filled": false, "color": "black", "strokeWidth": 1.5, "opacity": 1},
         "encoding": {"x": {"datum": 0, "type": "quantitative", "scale": {"domain": [0, 1], "nice": false, "zero": false}, "axis": null}, "y": {"datum": 1.408, "type": "quantitative", "scale": {"domain": [-0.5, 1.1], "nice": false, "zero": false}, "axis": null}}},
        {"data": {"values": [{}]}, "mark": {"type": "point", "shape": "M-2,-0.9L0,0L-2,0.9", "size": 256, "filled": false, "color": "black", "strokeWidth": 1.5, "opacity": 1},
         "encoding": {"x": {"datum": 1.108, "type": "quantitative", "scale": {"domain": [0, 1], "nice": false, "zero": false}, "axis": null}, "y": {"datum": -0.5, "type": "quantitative", "scale": {"domain": [-0.5, 1.1], "nice": false, "zero": false}, "axis": null}}}
      ],
      "resolve": {"axis": {"x": "independent", "y": "independent"}}
    },
    {
      "width": 418, "height": 234,
      "title": {"text": "Length = 1 mm\u00a0\u00a0\u00a0Pt = 0.934\u00a0\u00a0\u00a0\u00a0\u00a0Scale = 1.5", "dx": 28},
      "layer": [
        {"data": {"values": [{}]}, "mark": {"type": "rule", "color": "black", "strokeWidth": 2}, "encoding": {"y": {"datum": 0, "type": "quantitative", "scale": {"domain": [-0.5, 1], "nice": false, "zero": false}, "axis": null}}},
        {"data": {"values": [{"x":0,"y":0.672},{"x":0.026,"y":0.608},{"x":0.058,"y":0.48},{"x":0.09,"y":0.373},{"x":0.122,"y":0.288},{"x":0.154,"y":0.224},{"x":0.186,"y":0.181},{"x":0.218,"y":0.149},{"x":0.266,"y":0.128},{"x":0.314,"y":0.104},{"x":0.362,"y":0.075},{"x":0.402,"y":0.035},{"x":0.43,"y":0},{"x":0.458,"y":-0.032},{"x":0.506,"y":-0.085},{"x":0.554,"y":-0.122},{"x":0.602,"y":-0.149},{"x":0.638,"y":-0.164},{"x":0.73,"y":-0.165},{"x":0.77,"y":-0.192},{"x":0.81,"y":-0.215},{"x":0.857,"y":-0.25},{"x":0.905,"y":-0.257},{"x":0.95,"y":-0.26},{"x":1,"y":-0.27}]},
         "mark": {"type": "line", "color": "#1e7fe0", "strokeWidth": 1.6, "interpolate": "monotone"},
         "encoding": {
          "x": {"field": "x", "type": "quantitative", "scale": {"domain": [0, 1], "nice": false, "zero": false},
                "axis": {"orient": "bottom", "values": [0,0.05,0.1,0.15,0.2,0.25,0.3,0.35,0.4,0.45,0.5,0.55,0.6,0.65,0.7,0.75,0.8,0.85,0.9,0.95],
                 "tickSize": {"expr": "abs(datum.value*10-round(datum.value*10))<0.001 ? 10 : 5.5"},
                 "labelExpr": "abs(datum.value*5-round(datum.value*5))<0.001 ? (abs(datum.value-0.8) < 0.001 ? '0.8 mm' : format(datum.value, '~g')) : ''",
                 "labelAlign": {"condition": {"test": "abs(datum.value-0.8) < 0.001", "value": "left"}, "value": "center"},
                 "labelOffset": {"condition": {"test": "abs(datum.value-0.8) < 0.001", "value": -12.7}, "value": 0},
                 "labelPadding": 7, "grid": true,
                 "gridOpacity": {"condition": {"test": "abs(datum.value*5-round(datum.value*5))<0.001 && datum.value > 0.01 && datum.value < 0.99", "value": 1}, "value": 0},
                 "title": "g)", "titleX": -81, "titleY": 81, "titleAlign": "left", "titleBaseline": "alphabetic", "titleFont": "Liberation Serif", "titleFontSize": 22, "titleFontWeight": "bold", "titleAngle": 0}},
          "y": {"field": "y", "type": "quantitative", "scale": {"domain": [-0.5, 1], "nice": false, "zero": false},
                "axis": {"orient": "left", "values": [-0.5,-0.4,-0.3,-0.2,-0.1,0,0.1,0.2,0.3,0.4,0.5,0.6,0.7,0.8,0.9,1],
                 "tickSize": {"expr": "abs(datum.value*5-round(datum.value*5))<0.001 || datum.value < -0.45 ? 10 : 4"},
                 "labelExpr": "abs(datum.value*5-round(datum.value*5))<0.001 && datum.value > -0.45 ? (datum.value < -0.01 ? '-' : '') + format(abs(datum.value), '~g') : ''",
                 "labelPadding": 9, "grid": true,
                 "gridOpacity": {"condition": {"test": "abs(datum.value*5-round(datum.value*5))<0.001 && abs(datum.value) > 0.01 && datum.value > -0.45 && datum.value < 0.99", "value": 1}, "value": 0},
                 "title": null}}
         }},
        {"data": {"values": [{}]}, "mark": {"type": "rule", "color": "black", "strokeWidth": 1.5},
         "encoding": {
          "x": {"datum": 0, "type": "quantitative", "scale": {"domain": [0, 1], "nice": false, "zero": false},
                "axis": {"orient": "top", "values": [0,0.05,0.1,0.15,0.2,0.25,0.3,0.35,0.4,0.45,0.5,0.55,0.6,0.65,0.7,0.75,0.8,0.85,0.9,0.95,1],
                 "tickSize": 6, "labels": false, "grid": false, "title": null}},
          "y": {"datum": 1, "type": "quantitative", "scale": {"domain": [-0.5, 1], "nice": false, "zero": false},
                "axis": {"orient": "right", "values": [-0.5,-0.4,-0.3,-0.2,-0.1,0,0.1,0.2,0.3,0.4,0.5,0.6,0.7,0.8,0.9,1], "tickSize": 6, "labels": false, "grid": false, "title": null}},
          "y2": {"datum": 1.2885}
         }},
        {"data": {"values": [{}]}, "mark": {"type": "rule", "color": "black", "strokeWidth": 1.5},
         "encoding": {"x": {"datum": 1, "type": "quantitative", "scale": {"domain": [0, 1], "nice": false, "zero": false}, "axis": null}, "x2": {"datum": 1.108}, "y": {"datum": -0.5, "type": "quantitative", "scale": {"domain": [-0.5, 1], "nice": false, "zero": false}, "axis": null}}},
        {"data": {"values": [{}]}, "mark": {"type": "point", "shape": "M-0.8,2L0,0L0.8,2", "size": 256, "filled": false, "color": "black", "strokeWidth": 1.5, "opacity": 1},
         "encoding": {"x": {"datum": 0, "type": "quantitative", "scale": {"domain": [0, 1], "nice": false, "zero": false}, "axis": null}, "y": {"datum": 1.2885, "type": "quantitative", "scale": {"domain": [-0.5, 1], "nice": false, "zero": false}, "axis": null}}},
        {"data": {"values": [{}]}, "mark": {"type": "point", "shape": "M-2,-0.9L0,0L-2,0.9", "size": 256, "filled": false, "color": "black", "strokeWidth": 1.5, "opacity": 1},
         "encoding": {"x": {"datum": 1.108, "type": "quantitative", "scale": {"domain": [0, 1], "nice": false, "zero": false}, "axis": null}, "y": {"datum": -0.5, "type": "quantitative", "scale": {"domain": [-0.5, 1], "nice": false, "zero": false}, "axis": null}}}
      ],
      "resolve": {"axis": {"x": "independent", "y": "independent"}}
    },
    {
      "width": 418, "height": 234,
      "title": {"text": "Length = 1 mm\u00a0\u00a0\u00a0Pt = 0.937\u00a0\u00a0\u00a0\u00a0\u00a0Scale = 1.5", "dx": 27},
      "layer": [
        {"data": {"values": [{}]}, "mark": {"type": "rule", "color": "black", "strokeWidth": 2}, "encoding": {"y": {"datum": 0, "type": "quantitative", "scale": {"domain": [-0.5, 1], "nice": false, "zero": false}, "axis": null}}},
        {"data": {"values": [{"x":0,"y":0.672},{"x":0.026,"y":0.608},{"x":0.058,"y":0.48},{"x":0.09,"y":0.373},{"x":0.122,"y":0.288},{"x":0.154,"y":0.224},{"x":0.186,"y":0.181},{"x":0.218,"y":0.149},{"x":0.266,"y":0.128},{"x":0.314,"y":0.102},{"x":0.362,"y":0.075},{"x":0.402,"y":0.032},{"x":0.428,"y":0},{"x":0.458,"y":-0.032},{"x":0.506,"y":-0.085},{"x":0.554,"y":-0.122},{"x":0.602,"y":-0.149},{"x":0.634,"y":-0.164},{"x":0.73,"y":-0.164},{"x":0.77,"y":-0.192},{"x":0.81,"y":-0.213},{"x":0.857,"y":-0.252},{"x":0.905,"y":-0.256},{"x":0.95,"y":-0.258},{"x":1,"y":-0.27}]},
         "mark": {"type": "line", "color": "#1e7fe0", "strokeWidth": 1.6, "interpolate": "monotone"},
         "encoding": {
          "x": {"field": "x", "type": "quantitative", "scale": {"domain": [0, 1], "nice": false, "zero": false},
                "axis": {"orient": "bottom", "values": [0,0.02,0.04,0.06,0.08,0.1,0.12,0.14,0.16,0.18,0.2,0.22,0.24,0.26,0.28,0.3,0.32,0.34,0.36,0.38,0.4,0.42,0.44,0.46,0.48,0.5,0.52,0.54,0.56,0.58,0.6,0.62,0.64,0.66,0.68,0.7,0.72,0.74,0.76,0.78,0.8,0.82,0.84,0.86,0.88,0.9,0.92,0.94,0.96,0.98,1],
                 "tickSize": {"expr": "abs(datum.value*5-round(datum.value*5))<0.001 ? 10 : (abs(datum.value*10-round(datum.value*10))<0.001 ? 6 : 3.5)"},
                 "labelExpr": "abs(datum.value*5-round(datum.value*5))<0.001 ? (datum.value > 0.99 ? '1 mm' : format(datum.value, '~g')) : ''",
                 "labelAlign": {"condition": {"test": "datum.value > 0.99", "value": "left"}, "value": "center"},
                 "labelOffset": {"condition": {"test": "datum.value > 0.99", "value": -5}, "value": 0},
                 "labelPadding": 7, "grid": true,
                 "gridOpacity": {"condition": {"test": "abs(datum.value*5-round(datum.value*5))<0.001 && datum.value > 0.01 && datum.value < 0.99", "value": 1}, "value": 0},
                 "title": "h)", "titleX": -76, "titleY": 81, "titleAlign": "left", "titleBaseline": "alphabetic", "titleFont": "Liberation Serif", "titleFontSize": 22, "titleFontWeight": "bold", "titleAngle": 0}},
          "y": {"field": "y", "type": "quantitative", "scale": {"domain": [-0.5, 1], "nice": false, "zero": false},
                "axis": {"orient": "left", "values": [-0.5,-0.4,-0.3,-0.2,-0.1,0,0.1,0.2,0.3,0.4,0.5,0.6,0.7,0.8,0.9,1],
                 "tickSize": {"expr": "abs(datum.value*5-round(datum.value*5))<0.001 || datum.value < -0.45 ? 10 : 4"},
                 "labelExpr": "abs(datum.value*5-round(datum.value*5))<0.001 && datum.value > -0.45 ? (datum.value < -0.01 ? '-' : '') + format(abs(datum.value), '~g') : ''",
                 "labelPadding": 9, "grid": true,
                 "gridOpacity": {"condition": {"test": "abs(datum.value*5-round(datum.value*5))<0.001 && abs(datum.value) > 0.01 && datum.value > -0.45 && datum.value < 0.99", "value": 1}, "value": 0},
                 "title": null}}
         }},
        {"data": {"values": [{}]}, "mark": {"type": "rule", "color": "black", "strokeWidth": 1.5},
         "encoding": {
          "x": {"datum": 0, "type": "quantitative", "scale": {"domain": [0, 1], "nice": false, "zero": false},
                "axis": {"orient": "top", "values": [0,0.02,0.04,0.06,0.08,0.1,0.12,0.14,0.16,0.18,0.2,0.22,0.24,0.26,0.28,0.3,0.32,0.34,0.36,0.38,0.4,0.42,0.44,0.46,0.48,0.5,0.52,0.54,0.56,0.58,0.6,0.62,0.64,0.66,0.68,0.7,0.72,0.74,0.76,0.78,0.8,0.82,0.84,0.86,0.88,0.9,0.92,0.94,0.96,0.98,1],
                 "tickSize": {"expr": "abs(datum.value*10-round(datum.value*10))<0.001 ? 6 : 3.5"}, "labels": false, "grid": false, "title": null}},
          "y": {"datum": 1, "type": "quantitative", "scale": {"domain": [-0.5, 1], "nice": false, "zero": false},
                "axis": {"orient": "right", "values": [-0.5,-0.4,-0.3,-0.2,-0.1,0,0.1,0.2,0.3,0.4,0.5,0.6,0.7,0.8,0.9,1], "tickSize": 6, "labels": false, "grid": false, "title": null}},
          "y2": {"datum": 1.2885}
         }},
        {"data": {"values": [{}]}, "mark": {"type": "rule", "color": "black", "strokeWidth": 1.5},
         "encoding": {"x": {"datum": 1, "type": "quantitative", "scale": {"domain": [0, 1], "nice": false, "zero": false}, "axis": null}, "x2": {"datum": 1.108}, "y": {"datum": -0.5, "type": "quantitative", "scale": {"domain": [-0.5, 1], "nice": false, "zero": false}, "axis": null}}},
        {"data": {"values": [{}]}, "mark": {"type": "point", "shape": "M-0.8,2L0,0L0.8,2", "size": 256, "filled": false, "color": "black", "strokeWidth": 1.5, "opacity": 1},
         "encoding": {"x": {"datum": 0, "type": "quantitative", "scale": {"domain": [0, 1], "nice": false, "zero": false}, "axis": null}, "y": {"datum": 1.2885, "type": "quantitative", "scale": {"domain": [-0.5, 1], "nice": false, "zero": false}, "axis": null}}},
        {"data": {"values": [{}]}, "mark": {"type": "point", "shape": "M-2,-0.9L0,0L-2,0.9", "size": 256, "filled": false, "color": "black", "strokeWidth": 1.5, "opacity": 1},
         "encoding": {"x": {"datum": 1.108, "type": "quantitative", "scale": {"domain": [0, 1], "nice": false, "zero": false}, "axis": null}, "y": {"datum": -0.5, "type": "quantitative", "scale": {"domain": [-0.5, 1], "nice": false, "zero": false}, "axis": null}}}
      ],
      "resolve": {"axis": {"x": "independent", "y": "independent"}}
    }
  ]
}
